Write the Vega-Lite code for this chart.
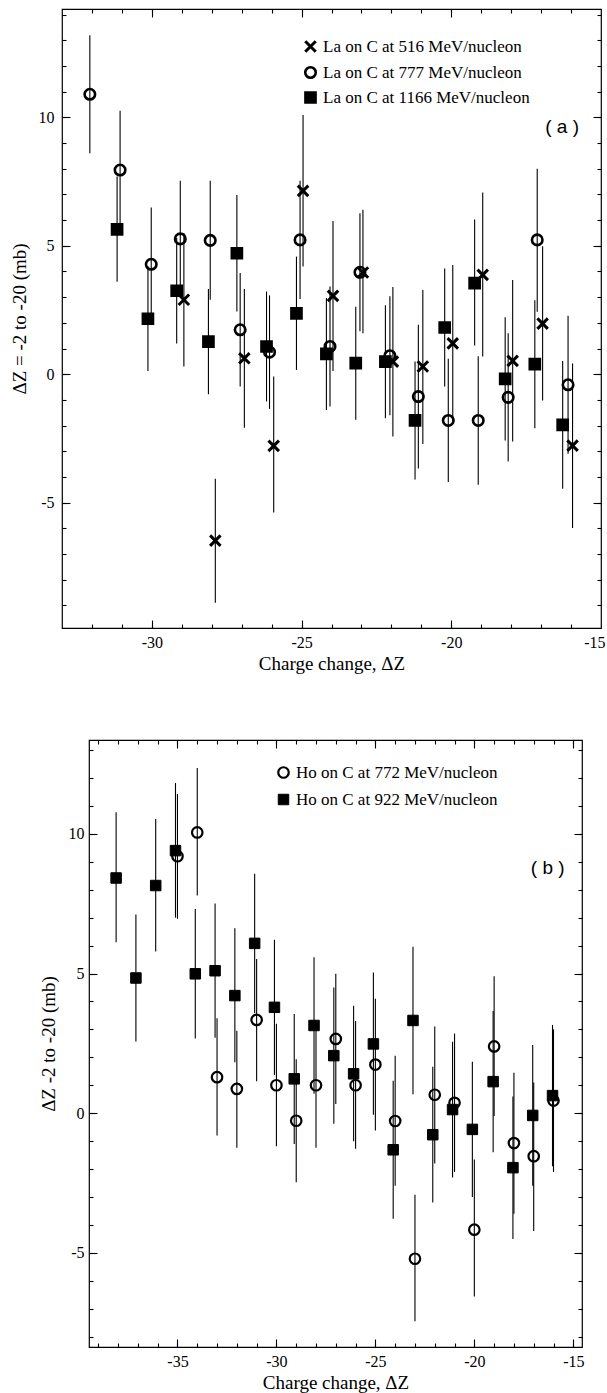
{
  "$schema": "https://vega.github.io/schema/vega-lite/v6.json",
  "background": "white",
  "padding": {"left": 0, "top": 7, "right": 0, "bottom": 0},
  "config": {
    "view": {"stroke": "black", "strokeWidth": 1.2},
    "axis": {"domain": false, "grid": false, "tickColor": "black", "tickWidth": 1.1, "labelColor": "black", "labelFont": "Liberation Serif", "labelFontSize": 16, "titleFont": "Liberation Serif", "titleFontSize": 19, "titleFontWeight": "normal", "titleColor": "black"},
    "legend": {"labelFont": "Liberation Serif", "labelFontSize": 17, "labelColor": "black", "labelLimit": 400}
  },
  "datasets": {
    "top": [
      {"s": "La on C at 516 MeV/nucleon", "dz": -28.93, "y": 2.9, "lo": 0.3, "hi": 5.5},
      {"s": "La on C at 516 MeV/nucleon", "dz": -27.88, "y": -6.48, "lo": -8.9, "hi": -4.07},
      {"s": "La on C at 516 MeV/nucleon", "dz": -26.91, "y": 0.62, "lo": -2.08, "hi": 3.32},
      {"s": "La on C at 516 MeV/nucleon", "dz": -25.93, "y": -2.79, "lo": -5.38, "hi": -0.09},
      {"s": "La on C at 516 MeV/nucleon", "dz": -24.95, "y": 7.14, "lo": 4.19, "hi": 10.09},
      {"s": "La on C at 516 MeV/nucleon", "dz": -23.95, "y": 3.05, "lo": 0.13, "hi": 5.97},
      {"s": "La on C at 516 MeV/nucleon", "dz": -22.95, "y": 3.96, "lo": 1.6, "hi": 6.4},
      {"s": "La on C at 516 MeV/nucleon", "dz": -21.95, "y": 0.49, "lo": -2.42, "hi": 3.4},
      {"s": "La on C at 516 MeV/nucleon", "dz": -20.95, "y": 0.3, "lo": -2.72, "hi": 3.28},
      {"s": "La on C at 516 MeV/nucleon", "dz": -19.95, "y": 1.2, "lo": -1.85, "hi": 4.25},
      {"s": "La on C at 516 MeV/nucleon", "dz": -18.95, "y": 3.87, "lo": 0.69, "hi": 7.08},
      {"s": "La on C at 516 MeV/nucleon", "dz": -17.95, "y": 0.52, "lo": -2.62, "hi": 3.67},
      {"s": "La on C at 516 MeV/nucleon", "dz": -16.95, "y": 1.97, "lo": -1.02, "hi": 4.98},
      {"s": "La on C at 516 MeV/nucleon", "dz": -15.95, "y": -2.78, "lo": -5.99, "hi": 0.42},
      {"s": "La on C at 777 MeV/nucleon", "dz": -32.07, "y": 10.9, "lo": 8.6, "hi": 13.2},
      {"s": "La on C at 777 MeV/nucleon", "dz": -31.06, "y": 7.95, "lo": 5.65, "hi": 10.26},
      {"s": "La on C at 777 MeV/nucleon", "dz": -30.02, "y": 4.28, "lo": 2.07, "hi": 6.49},
      {"s": "La on C at 777 MeV/nucleon", "dz": -29.05, "y": 5.27, "lo": 3.0, "hi": 7.53},
      {"s": "La on C at 777 MeV/nucleon", "dz": -28.05, "y": 5.21, "lo": 2.9, "hi": 7.53},
      {"s": "La on C at 777 MeV/nucleon", "dz": -27.05, "y": 1.73, "lo": -0.48, "hi": 3.94},
      {"s": "La on C at 777 MeV/nucleon", "dz": -26.07, "y": 0.86, "lo": -1.35, "hi": 3.07},
      {"s": "La on C at 777 MeV/nucleon", "dz": -25.05, "y": 5.23, "lo": 2.93, "hi": 7.53},
      {"s": "La on C at 777 MeV/nucleon", "dz": -24.05, "y": 1.08, "lo": -1.26, "hi": 3.42},
      {"s": "La on C at 777 MeV/nucleon", "dz": -23.05, "y": 3.97, "lo": 1.67, "hi": 6.27},
      {"s": "La on C at 777 MeV/nucleon", "dz": -22.05, "y": 0.72, "lo": -1.6, "hi": 3.04},
      {"s": "La on C at 777 MeV/nucleon", "dz": -21.1, "y": -0.87, "lo": -3.67, "hi": 1.93},
      {"s": "La on C at 777 MeV/nucleon", "dz": -20.1, "y": -1.8, "lo": -4.2, "hi": 0.6},
      {"s": "La on C at 777 MeV/nucleon", "dz": -19.1, "y": -1.8, "lo": -4.3, "hi": 0.7},
      {"s": "La on C at 777 MeV/nucleon", "dz": -18.1, "y": -0.9, "lo": -3.4, "hi": 1.6},
      {"s": "La on C at 777 MeV/nucleon", "dz": -17.13, "y": 5.23, "lo": 2.43, "hi": 8.0},
      {"s": "La on C at 777 MeV/nucleon", "dz": -16.1, "y": -0.41, "lo": -3.1, "hi": 2.28},
      {"s": "La on C at 1166 MeV/nucleon", "dz": -31.16, "y": 5.64, "lo": 3.6, "hi": 7.7},
      {"s": "La on C at 1166 MeV/nucleon", "dz": -30.13, "y": 2.16, "lo": 0.13, "hi": 4.2},
      {"s": "La on C at 1166 MeV/nucleon", "dz": -29.17, "y": 3.25, "lo": 1.2, "hi": 5.3},
      {"s": "La on C at 1166 MeV/nucleon", "dz": -28.11, "y": 1.27, "lo": -0.78, "hi": 3.32},
      {"s": "La on C at 1166 MeV/nucleon", "dz": -27.16, "y": 4.71, "lo": 2.44, "hi": 6.98},
      {"s": "La on C at 1166 MeV/nucleon", "dz": -26.17, "y": 1.08, "lo": -1.06, "hi": 3.22},
      {"s": "La on C at 1166 MeV/nucleon", "dz": -25.17, "y": 2.37, "lo": 0.17, "hi": 4.58},
      {"s": "La on C at 1166 MeV/nucleon", "dz": -24.17, "y": 0.79, "lo": -1.39, "hi": 2.97},
      {"s": "La on C at 1166 MeV/nucleon", "dz": -23.19, "y": 0.43, "lo": -1.77, "hi": 2.63},
      {"s": "La on C at 1166 MeV/nucleon", "dz": -22.2, "y": 0.49, "lo": -1.71, "hi": 2.69},
      {"s": "La on C at 1166 MeV/nucleon", "dz": -21.21, "y": -1.8, "lo": -4.1, "hi": 0.5},
      {"s": "La on C at 1166 MeV/nucleon", "dz": -20.22, "y": 1.82, "lo": -0.48, "hi": 4.12},
      {"s": "La on C at 1166 MeV/nucleon", "dz": -19.22, "y": 3.55, "lo": 1.12, "hi": 6.02},
      {"s": "La on C at 1166 MeV/nucleon", "dz": -18.2, "y": -0.18, "lo": -2.58, "hi": 2.22},
      {"s": "La on C at 1166 MeV/nucleon", "dz": -17.21, "y": 0.39, "lo": -2.1, "hi": 2.88},
      {"s": "La on C at 1166 MeV/nucleon", "dz": -16.28, "y": -1.97, "lo": -4.46, "hi": 0.52}
    ],
    "bottom": [
      {"s2": "Ho on C at 772 MeV/nucleon", "dz": -35.0, "y": 9.2, "lo": 6.96, "hi": 11.43},
      {"s2": "Ho on C at 772 MeV/nucleon", "dz": -34.0, "y": 10.05, "lo": 7.79, "hi": 12.36},
      {"s2": "Ho on C at 772 MeV/nucleon", "dz": -33.0, "y": 1.29, "lo": -0.8, "hi": 3.4},
      {"s2": "Ho on C at 772 MeV/nucleon", "dz": -32.0, "y": 0.87, "lo": -1.24, "hi": 2.95},
      {"s2": "Ho on C at 772 MeV/nucleon", "dz": -31.0, "y": 3.34, "lo": 1.14, "hi": 5.52},
      {"s2": "Ho on C at 772 MeV/nucleon", "dz": -30.0, "y": 1.0, "lo": -1.18, "hi": 3.2},
      {"s2": "Ho on C at 772 MeV/nucleon", "dz": -29.0, "y": -0.27, "lo": -2.47, "hi": 1.93},
      {"s2": "Ho on C at 772 MeV/nucleon", "dz": -28.0, "y": 1.0, "lo": -1.24, "hi": 3.24},
      {"s2": "Ho on C at 772 MeV/nucleon", "dz": -27.0, "y": 2.66, "lo": 0.33, "hi": 4.99},
      {"s2": "Ho on C at 772 MeV/nucleon", "dz": -26.0, "y": 1.0, "lo": -1.27, "hi": 3.3},
      {"s2": "Ho on C at 772 MeV/nucleon", "dz": -25.0, "y": 1.74, "lo": -0.62, "hi": 4.1},
      {"s2": "Ho on C at 772 MeV/nucleon", "dz": -24.0, "y": -0.28, "lo": -2.6, "hi": 2.06},
      {"s2": "Ho on C at 772 MeV/nucleon", "dz": -23.0, "y": -5.21, "lo": -7.45, "hi": -2.92},
      {"s2": "Ho on C at 772 MeV/nucleon", "dz": -22.0, "y": 0.66, "lo": -1.8, "hi": 3.1},
      {"s2": "Ho on C at 772 MeV/nucleon", "dz": -21.0, "y": 0.37, "lo": -2.1, "hi": 2.85},
      {"s2": "Ho on C at 772 MeV/nucleon", "dz": -20.0, "y": -4.17, "lo": -6.56, "hi": -1.66},
      {"s2": "Ho on C at 772 MeV/nucleon", "dz": -19.0, "y": 2.39, "lo": -0.1, "hi": 4.9},
      {"s2": "Ho on C at 772 MeV/nucleon", "dz": -18.0, "y": -1.07, "lo": -3.6, "hi": 1.45},
      {"s2": "Ho on C at 772 MeV/nucleon", "dz": -17.0, "y": -1.54, "lo": -4.22, "hi": 1.1},
      {"s2": "Ho on C at 772 MeV/nucleon", "dz": -16.0, "y": 0.45, "lo": -2.1, "hi": 3.0},
      {"s2": "Ho on C at 922 MeV/nucleon", "dz": -38.1, "y": 8.42, "lo": 6.12, "hi": 10.77},
      {"s2": "Ho on C at 922 MeV/nucleon", "dz": -37.1, "y": 4.84, "lo": 2.57, "hi": 7.11},
      {"s2": "Ho on C at 922 MeV/nucleon", "dz": -36.1, "y": 8.15, "lo": 5.79, "hi": 10.53},
      {"s2": "Ho on C at 922 MeV/nucleon", "dz": -35.1, "y": 9.4, "lo": 7.0, "hi": 11.82},
      {"s2": "Ho on C at 922 MeV/nucleon", "dz": -34.1, "y": 4.99, "lo": 2.67, "hi": 7.31},
      {"s2": "Ho on C at 922 MeV/nucleon", "dz": -33.1, "y": 5.1, "lo": 2.7, "hi": 7.51},
      {"s2": "Ho on C at 922 MeV/nucleon", "dz": -32.1, "y": 4.21, "lo": 1.82, "hi": 6.62},
      {"s2": "Ho on C at 922 MeV/nucleon", "dz": -31.1, "y": 6.08, "lo": 3.59, "hi": 8.57},
      {"s2": "Ho on C at 922 MeV/nucleon", "dz": -30.1, "y": 3.79, "lo": 1.37, "hi": 6.21},
      {"s2": "Ho on C at 922 MeV/nucleon", "dz": -29.1, "y": 1.23, "lo": -1.1, "hi": 3.55},
      {"s2": "Ho on C at 922 MeV/nucleon", "dz": -28.1, "y": 3.14, "lo": 0.7, "hi": 5.58},
      {"s2": "Ho on C at 922 MeV/nucleon", "dz": -27.1, "y": 2.06, "lo": -0.38, "hi": 4.5},
      {"s2": "Ho on C at 922 MeV/nucleon", "dz": -26.1, "y": 1.41, "lo": -1.0, "hi": 3.85},
      {"s2": "Ho on C at 922 MeV/nucleon", "dz": -25.1, "y": 2.48, "lo": -0.06, "hi": 5.04},
      {"s2": "Ho on C at 922 MeV/nucleon", "dz": -24.1, "y": -1.31, "lo": -3.78, "hi": 1.16},
      {"s2": "Ho on C at 922 MeV/nucleon", "dz": -23.1, "y": 3.32, "lo": 0.68, "hi": 5.96},
      {"s2": "Ho on C at 922 MeV/nucleon", "dz": -22.1, "y": -0.77, "lo": -3.2, "hi": 1.66},
      {"s2": "Ho on C at 922 MeV/nucleon", "dz": -21.1, "y": 0.13, "lo": -2.3, "hi": 2.56},
      {"s2": "Ho on C at 922 MeV/nucleon", "dz": -20.1, "y": -0.58, "lo": -3.0, "hi": 1.84},
      {"s2": "Ho on C at 922 MeV/nucleon", "dz": -19.05, "y": 1.13, "lo": -1.4, "hi": 3.66},
      {"s2": "Ho on C at 922 MeV/nucleon", "dz": -18.05, "y": -1.95, "lo": -4.5, "hi": 0.6},
      {"s2": "Ho on C at 922 MeV/nucleon", "dz": -17.05, "y": -0.08, "lo": -2.6, "hi": 2.44},
      {"s2": "Ho on C at 922 MeV/nucleon", "dz": -16.05, "y": 0.63, "lo": -1.9, "hi": 3.16}
    ]
  },
  "vconcat": [
    {
      "hconcat": [
        {
          "width": 7,
          "height": 10,
          "view": {"stroke": "transparent"},
          "data": {"values": []},
          "mark": {"type": "point", "opacity": 0}
        },
        {
          "width": 539,
          "height": 619,
          "data": {"name": "top"},
          "layer": [
            {
              "mark": {"type": "rule", "color": "black", "strokeWidth": 1.1},
              "encoding": {
                "x": {"field": "dz", "type": "quantitative", "scale": {"domain": [-33, -15], "nice": false, "zero": false},
                  "axis": {"orient": "bottom", "title": "Charge change, ΔZ", "values": [-30, -25, -20, -15], "ticks": false, "tickSize": 0,
                    "labelExpr": "(datum.value < 0 ? '-' : '') + abs(datum.value)",
                    "labelPadding": 6, "titlePadding": 4, "labelFlush": true, "labelFlushOffset": 4}},
                "y": {"field": "lo", "type": "quantitative", "scale": {"domain": [-9.88, 14.22], "nice": false, "zero": false},
                  "axis": {"orient": "left", "title": "ΔZ = -2 to -20 (mb)", "values": [-5, 0, 5, 10], "ticks": false, "tickSize": 0,
                    "labelExpr": "(datum.value < 0 ? '-' : '') + abs(datum.value)",
                    "labelPadding": 8, "titlePadding": 9, "labelFlush": false}},
                "y2": {"field": "hi"}
              }
            },
            {
              "mark": {"type": "point", "opacity": 1, "size": 110},
              "encoding": {
                "x": {"field": "dz", "type": "quantitative",
                  "axis": {"orient": "top", "title": null, "labels": false, "values": [-30, -25, -20], "tickSize": -8}},
                "y": {"field": "y", "type": "quantitative",
                  "axis": {"orient": "right", "title": null, "labels": false, "values": [-5, 0, 5, 10], "tickSize": -8}},
                "shape": {"field": "s", "type": "nominal",
                  "scale": {"domain": ["La on C at 516 MeV/nucleon", "La on C at 777 MeV/nucleon", "La on C at 1166 MeV/nucleon"], "range": ["M-1,-1L1,1M-1,1L1,-1", "circle", "square"]},
                  "legend": {"title": null, "orient": "none", "legendX": 301, "legendY": 29, "padding": 0, "rowPadding": 4, "labelOffset": 4, "symbolSize": 110, "symbolStrokeWidth": 2.4, "labelFontSize": 17}},
                "fill": {"field": "s", "type": "nominal",
                  "scale": {"domain": ["La on C at 516 MeV/nucleon", "La on C at 777 MeV/nucleon", "La on C at 1166 MeV/nucleon"], "range": ["transparent", "transparent", "black"]},
                  "legend": {"title": null, "orient": "none", "legendX": 301, "legendY": 29, "padding": 0, "rowPadding": 4, "labelOffset": 4, "symbolSize": 110, "symbolStrokeWidth": 2.4, "labelFontSize": 17}},
                "stroke": {"field": "s", "type": "nominal",
                  "scale": {"domain": ["La on C at 516 MeV/nucleon", "La on C at 777 MeV/nucleon", "La on C at 1166 MeV/nucleon"], "range": ["black", "black", "black"]},
                  "legend": {"title": null, "orient": "none", "legendX": 301, "legendY": 29, "padding": 0, "rowPadding": 4, "labelOffset": 4, "symbolSize": 110, "symbolStrokeWidth": 2.4, "labelFontSize": 17}},
                "strokeWidth": {"field": "s", "type": "nominal",
                  "scale": {"domain": ["La on C at 516 MeV/nucleon", "La on C at 777 MeV/nucleon", "La on C at 1166 MeV/nucleon"], "range": [3, 2.2, 1]},
                  "legend": null}
              }
            },
            {
              "data": {"values": [{}]},
              "mark": {"type": "text", "text": "( a )", "font": "Liberation Sans", "fontSize": 19, "fontWeight": "normal", "align": "center", "baseline": "middle", "fill": "black"},
              "encoding": {
                "x": {"datum": -16.3, "type": "quantitative",
                  "axis": {"orient": "bottom", "title": null, "labels": false, "values": [-30, -25, -20], "tickSize": -8}},
                "y": {"datum": 9.64, "type": "quantitative",
                  "axis": {"orient": "left", "title": null, "labels": false, "values": [-5, 0, 5, 10], "tickSize": -8}}
              }
            },
            {
              "mark": {"type": "point", "opacity": 0},
              "encoding": {
                "x": {"field": "dz", "type": "quantitative",
                  "axis": {"orient": "top", "title": null, "labels": false, "values": [-32,-31,-30,-29,-28,-27,-26,-25,-24,-23,-22,-21,-20,-19,-18,-17,-16], "tickSize": -4}},
                "y": {"field": "y", "type": "quantitative",
                  "axis": {"orient": "right", "title": null, "labels": false, "values": [-9,-8,-7,-6,-5,-4,-3,-2,-1,0,1,2,3,4,5,6,7,8,9,10,11,12,13,14], "tickSize": -4}}
              }
            },
            {
              "mark": {"type": "point", "opacity": 0},
              "encoding": {
                "x": {"field": "dz", "type": "quantitative",
                  "axis": {"orient": "bottom", "title": null, "labels": false, "values": [-32,-31,-30,-29,-28,-27,-26,-25,-24,-23,-22,-21,-20,-19,-18,-17,-16], "tickSize": -4}},
                "y": {"field": "y", "type": "quantitative",
                  "axis": {"orient": "left", "title": null, "labels": false, "values": [-9,-8,-7,-6,-5,-4,-3,-2,-1,0,1,2,3,4,5,6,7,8,9,10,11,12,13,14], "tickSize": -4}}
              }
            }
          ],
          "resolve": {"axis": {"x": "independent", "y": "independent"}}
        }
      ],
      "spacing": 0
    },
    {
      "hconcat": [
        {
          "width": 36,
          "height": 10,
          "view": {"stroke": "transparent"},
          "data": {"values": []},
          "mark": {"type": "point", "opacity": 0}
        },
        {
          "width": 493,
          "height": 607,
          "data": {"name": "bottom"},
          "layer": [
            {
              "mark": {"type": "rule", "color": "black", "strokeWidth": 1.1},
              "encoding": {
                "x": {"field": "dz", "type": "quantitative", "scale": {"domain": [-39.47, -14.56], "nice": false, "zero": false},
                  "axis": {"orient": "bottom", "title": "Charge change, ΔZ", "values": [-35, -30, -25, -20, -15], "ticks": false, "tickSize": 0,
                    "labelExpr": "(datum.value < 0 ? '-' : '') + abs(datum.value)",
                    "labelPadding": 6, "titlePadding": 4, "labelFlush": false}},
                "y": {"field": "lo", "type": "quantitative", "scale": {"domain": [-8.37, 13.36], "nice": false, "zero": false},
                  "axis": {"orient": "left", "title": "ΔZ -2 to -20 (mb)", "values": [-5, 0, 5, 10], "ticks": false, "tickSize": 0,
                    "labelExpr": "(datum.value < 0 ? '-' : '') + abs(datum.value)",
                    "labelPadding": 5, "titlePadding": 10, "labelFlush": false}},
                "y2": {"field": "hi"}
              }
            },
            {
              "mark": {"type": "point", "opacity": 1, "size": 110},
              "encoding": {
                "x": {"field": "dz", "type": "quantitative",
                  "axis": {"orient": "top", "title": null, "labels": false, "values": [-35, -30, -25, -20, -15], "tickSize": -8}},
                "y": {"field": "y", "type": "quantitative",
                  "axis": {"orient": "right", "title": null, "labels": false, "values": [-5, 0, 5, 10], "tickSize": -8}},
                "shape": {"field": "s2", "type": "nominal",
                  "scale": {"domain": ["Ho on C at 772 MeV/nucleon", "Ho on C at 922 MeV/nucleon"], "range": ["circle", "square"]},
                  "legend": {"title": null, "orient": "none", "legendX": 274, "legendY": 24, "padding": 0, "rowPadding": 7, "labelOffset": 4, "symbolSize": 110, "symbolStrokeWidth": 2.2, "labelFontSize": 17}},
                "fill": {"field": "s2", "type": "nominal",
                  "scale": {"domain": ["Ho on C at 772 MeV/nucleon", "Ho on C at 922 MeV/nucleon"], "range": ["transparent", "black"]},
                  "legend": {"title": null, "orient": "none", "legendX": 274, "legendY": 24, "padding": 0, "rowPadding": 7, "labelOffset": 4, "symbolSize": 110, "symbolStrokeWidth": 2.2, "labelFontSize": 17}},
                "stroke": {"field": "s2", "type": "nominal",
                  "scale": {"domain": ["Ho on C at 772 MeV/nucleon", "Ho on C at 922 MeV/nucleon"], "range": ["black", "black"]},
                  "legend": {"title": null, "orient": "none", "legendX": 274, "legendY": 24, "padding": 0, "rowPadding": 7, "labelOffset": 4, "symbolSize": 110, "symbolStrokeWidth": 2.2, "labelFontSize": 17}},
                "strokeWidth": {"field": "s2", "type": "nominal",
                  "scale": {"domain": ["Ho on C at 772 MeV/nucleon", "Ho on C at 922 MeV/nucleon"], "range": [2.2, 1]},
                  "legend": null}
              }
            },
            {
              "data": {"values": [{}]},
              "mark": {"type": "text", "text": "( b )", "font": "Liberation Sans", "fontSize": 19, "fontWeight": "normal", "align": "center", "baseline": "middle", "fill": "black"},
              "encoding": {
                "x": {"datum": -16.29, "type": "quantitative",
                  "axis": {"orient": "bottom", "title": null, "labels": false, "values": [-35, -30, -25, -20, -15], "tickSize": -8}},
                "y": {"datum": 8.77, "type": "quantitative",
                  "axis": {"orient": "left", "title": null, "labels": false, "values": [-5, 0, 5, 10], "tickSize": -8}}
              }
            },
            {
              "mark": {"type": "point", "opacity": 0},
              "encoding": {
                "x": {"field": "dz", "type": "quantitative",
                  "axis": {"orient": "top", "title": null, "labels": false, "values": [-39,-38,-37,-36,-35,-34,-33,-32,-31,-30,-29,-28,-27,-26,-25,-24,-23,-22,-21,-20,-19,-18,-17,-16,-15], "tickSize": -4}},
                "y": {"field": "y", "type": "quantitative",
                  "axis": {"orient": "right", "title": null, "labels": false, "values": [-8,-7,-6,-5,-4,-3,-2,-1,0,1,2,3,4,5,6,7,8,9,10,11,12,13], "tickSize": -4}}
              }
            },
            {
              "mark": {"type": "point", "opacity": 0},
              "encoding": {
                "x": {"field": "dz", "type": "quantitative",
                  "axis": {"orient": "bottom", "title": null, "labels": false, "values": [-39,-38,-37,-36,-35,-34,-33,-32,-31,-30,-29,-28,-27,-26,-25,-24,-23,-22,-21,-20,-19,-18,-17,-16,-15], "tickSize": -4}},
                "y": {"field": "y", "type": "quantitative",
                  "axis": {"orient": "left", "title": null, "labels": false, "values": [-8,-7,-6,-5,-4,-3,-2,-1,0,1,2,3,4,5,6,7,8,9,10,11,12,13], "tickSize": -4}}
              }
            }
          ],
          "resolve": {"axis": {"x": "independent", "y": "independent"}}
        }
      ],
      "spacing": 0
    }
  ],
  "spacing": 64,
  "resolve": {"scale": {"shape": "independent", "fill": "independent", "stroke": "independent", "strokeWidth": "independent"}, "legend": {"shape": "independent", "fill": "independent", "stroke": "independent"}}
}
